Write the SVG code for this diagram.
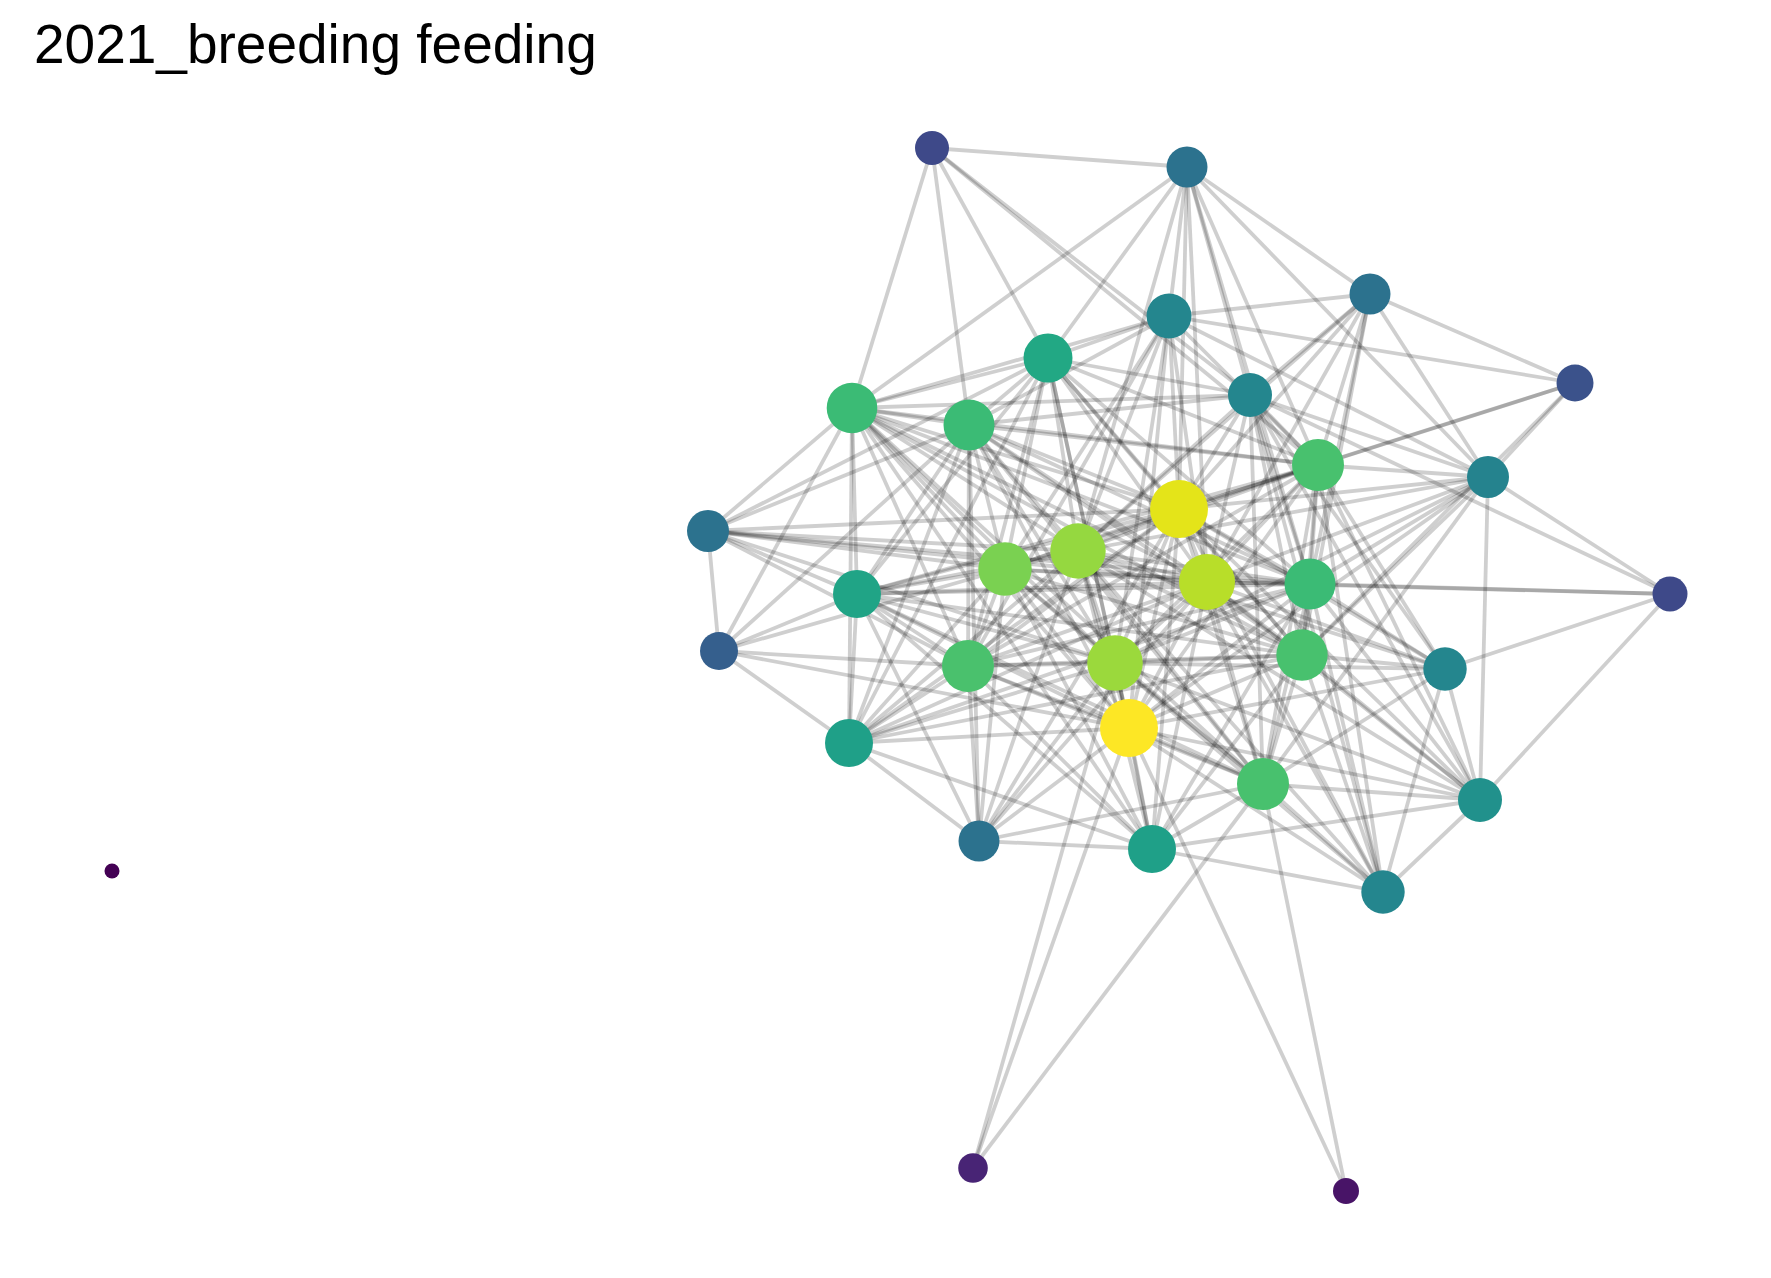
<svg xmlns="http://www.w3.org/2000/svg" width="1771" height="1278" viewBox="0 0 1771 1278">
<style>
.e path{fill:none;stroke:#000;stroke-opacity:0.19;stroke-width:3.8}
.t{font-family:"Liberation Sans",Arial,sans-serif;font-size:55px;fill:#000}
</style>
<rect width="1771" height="1278" fill="#fff"/>
<text class="t" x="34" y="63">2021_breeding feeding</text>
<g id="edges" class="e">
<path d="M932 148L1187 167"/><path d="M932 148L1048 358"/><path d="M932 148L1250 395"/><path d="M932 148L852 408"/><path d="M932 148L969 425"/><path d="M932 148L1318 465"/>
<path d="M1187 167L1370 294"/><path d="M1187 167L1169 316"/><path d="M1187 167L1048 358"/><path d="M1187 167L1250 395"/><path d="M1187 167L852 408"/><path d="M1187 167L1318 465"/><path d="M1187 167L1488 477"/><path d="M1187 167L1179 509"/><path d="M1187 167L1078 551"/><path d="M1187 167L1207 582"/><path d="M1187 167L1310 584"/>
<path d="M1370 294L1169 316"/><path d="M1370 294L1250 395"/><path d="M1370 294L1575 383"/><path d="M1370 294L1318 465"/><path d="M1370 294L1488 477"/><path d="M1370 294L1179 509"/><path d="M1370 294L1078 551"/><path d="M1370 294L1207 582"/><path d="M1370 294L1310 584"/><path d="M1370 294L1302 655"/>
<path d="M1169 316L1048 358"/><path d="M1169 316L1575 383"/><path d="M1169 316L852 408"/><path d="M1169 316L969 425"/><path d="M1169 316L1318 465"/><path d="M1169 316L1488 477"/><path d="M1169 316L1179 509"/><path d="M1169 316L1078 551"/><path d="M1169 316L1005 569"/><path d="M1169 316L1207 582"/><path d="M1169 316L968 666"/><path d="M1169 316L1115 663"/><path d="M1169 316L1129 728"/>
<path d="M1048 358L1250 395"/><path d="M1048 358L852 408"/><path d="M1048 358L969 425"/><path d="M1048 358L1318 465"/><path d="M1048 358L1179 509"/><path d="M1048 358L708 531"/><path d="M1048 358L1078 551"/><path d="M1048 358L1005 569"/><path d="M1048 358L1207 582"/><path d="M1048 358L1310 584"/><path d="M1048 358L857 594"/><path d="M1048 358L968 666"/><path d="M1048 358L1115 663"/><path d="M1048 358L1302 655"/><path d="M1048 358L1129 728"/><path d="M1048 358L849 743"/>
<path d="M1250 395L852 408"/><path d="M1250 395L969 425"/><path d="M1250 395L1318 465"/><path d="M1250 395L1488 477"/><path d="M1250 395L1179 509"/><path d="M1250 395L1078 551"/><path d="M1250 395L1207 582"/><path d="M1250 395L1310 584"/><path d="M1250 395L1670 594"/><path d="M1250 395L1302 655"/><path d="M1250 395L1445 669"/><path d="M1250 395L1263 784"/><path d="M1250 395L1480 800"/><path d="M1250 395L1383 892"/>
<path d="M1575 383L1318 465"/><path d="M1575 383L1488 477"/><path d="M1575 383L1179 509"/><path d="M1575 383L1302 655"/>
<path d="M852 408L969 425"/><path d="M852 408L1318 465"/><path d="M852 408L1179 509"/><path d="M852 408L708 531"/><path d="M852 408L1078 551"/><path d="M852 408L1005 569"/><path d="M852 408L1207 582"/><path d="M852 408L1310 584"/><path d="M852 408L857 594"/><path d="M852 408L719 651"/><path d="M852 408L968 666"/><path d="M852 408L1115 663"/><path d="M852 408L1302 655"/><path d="M852 408L1129 728"/><path d="M852 408L849 743"/><path d="M852 408L1263 784"/><path d="M852 408L1152 849"/>
<path d="M969 425L1318 465"/><path d="M969 425L1179 509"/><path d="M969 425L708 531"/><path d="M969 425L1078 551"/><path d="M969 425L1005 569"/><path d="M969 425L1207 582"/><path d="M969 425L1310 584"/><path d="M969 425L857 594"/><path d="M969 425L719 651"/><path d="M969 425L968 666"/><path d="M969 425L1115 663"/><path d="M969 425L1302 655"/><path d="M969 425L1129 728"/><path d="M969 425L849 743"/><path d="M969 425L1263 784"/><path d="M969 425L979 841"/>
<path d="M1318 465L1488 477"/><path d="M1318 465L1179 509"/><path d="M1318 465L1078 551"/><path d="M1318 465L1005 569"/><path d="M1318 465L1207 582"/><path d="M1318 465L1310 584"/><path d="M1318 465L857 594"/><path d="M1318 465L968 666"/><path d="M1318 465L1115 663"/><path d="M1318 465L1302 655"/><path d="M1318 465L1445 669"/><path d="M1318 465L1129 728"/><path d="M1318 465L1263 784"/><path d="M1318 465L1480 800"/><path d="M1318 465L1383 892"/>
<path d="M1488 477L1179 509"/><path d="M1488 477L1078 551"/><path d="M1488 477L1207 582"/><path d="M1488 477L1310 584"/><path d="M1488 477L1670 594"/><path d="M1488 477L1115 663"/><path d="M1488 477L1302 655"/><path d="M1488 477L1129 728"/><path d="M1488 477L1263 784"/><path d="M1488 477L1480 800"/>
<path d="M1179 509L708 531"/><path d="M1179 509L1078 551"/><path d="M1179 509L1005 569"/><path d="M1179 509L1207 582"/><path d="M1179 509L1310 584"/><path d="M1179 509L857 594"/><path d="M1179 509L968 666"/><path d="M1179 509L1115 663"/><path d="M1179 509L1302 655"/><path d="M1179 509L1445 669"/><path d="M1179 509L1129 728"/><path d="M1179 509L849 743"/><path d="M1179 509L1263 784"/><path d="M1179 509L1480 800"/><path d="M1179 509L979 841"/><path d="M1179 509L1152 849"/><path d="M1179 509L1383 892"/>
<path d="M708 531L1078 551"/><path d="M708 531L1005 569"/><path d="M708 531L1207 582"/><path d="M708 531L1310 584"/><path d="M708 531L857 594"/><path d="M708 531L719 651"/><path d="M708 531L968 666"/><path d="M708 531L1115 663"/>
<path d="M1078 551L1005 569"/><path d="M1078 551L1207 582"/><path d="M1078 551L1310 584"/><path d="M1078 551L857 594"/><path d="M1078 551L968 666"/><path d="M1078 551L1115 663"/><path d="M1078 551L1302 655"/><path d="M1078 551L1445 669"/><path d="M1078 551L1129 728"/><path d="M1078 551L849 743"/><path d="M1078 551L1263 784"/><path d="M1078 551L1480 800"/><path d="M1078 551L979 841"/><path d="M1078 551L1152 849"/><path d="M1078 551L1383 892"/>
<path d="M1005 569L1207 582"/><path d="M1005 569L1310 584"/><path d="M1005 569L857 594"/><path d="M1005 569L719 651"/><path d="M1005 569L968 666"/><path d="M1005 569L1115 663"/><path d="M1005 569L1302 655"/><path d="M1005 569L1129 728"/><path d="M1005 569L849 743"/><path d="M1005 569L1263 784"/><path d="M1005 569L979 841"/><path d="M1005 569L1152 849"/>
<path d="M1207 582L1310 584"/><path d="M1207 582L1670 594"/><path d="M1207 582L857 594"/><path d="M1207 582L968 666"/><path d="M1207 582L1115 663"/><path d="M1207 582L1302 655"/><path d="M1207 582L1445 669"/><path d="M1207 582L1129 728"/><path d="M1207 582L849 743"/><path d="M1207 582L1263 784"/><path d="M1207 582L1480 800"/><path d="M1207 582L979 841"/><path d="M1207 582L1152 849"/><path d="M1207 582L1383 892"/>
<path d="M1310 584L1670 594"/><path d="M1310 584L857 594"/><path d="M1310 584L968 666"/><path d="M1310 584L1115 663"/><path d="M1310 584L1302 655"/><path d="M1310 584L1445 669"/><path d="M1310 584L1129 728"/><path d="M1310 584L849 743"/><path d="M1310 584L1263 784"/><path d="M1310 584L1480 800"/><path d="M1310 584L1152 849"/><path d="M1310 584L1383 892"/>
<path d="M1670 594L1445 669"/><path d="M1670 594L1480 800"/>
<path d="M857 594L719 651"/><path d="M857 594L968 666"/><path d="M857 594L1115 663"/><path d="M857 594L1302 655"/><path d="M857 594L1129 728"/><path d="M857 594L849 743"/><path d="M857 594L1263 784"/><path d="M857 594L979 841"/><path d="M857 594L1152 849"/>
<path d="M719 651L968 666"/><path d="M719 651L1129 728"/><path d="M719 651L849 743"/>
<path d="M968 666L1115 663"/><path d="M968 666L1302 655"/><path d="M968 666L1129 728"/><path d="M968 666L849 743"/><path d="M968 666L1263 784"/><path d="M968 666L979 841"/><path d="M968 666L1152 849"/>
<path d="M1115 663L1302 655"/><path d="M1115 663L1445 669"/><path d="M1115 663L1129 728"/><path d="M1115 663L849 743"/><path d="M1115 663L1263 784"/><path d="M1115 663L1480 800"/><path d="M1115 663L979 841"/><path d="M1115 663L1152 849"/><path d="M1115 663L1383 892"/><path d="M1115 663L973 1168"/>
<path d="M1302 655L1445 669"/><path d="M1302 655L1129 728"/><path d="M1302 655L849 743"/><path d="M1302 655L1263 784"/><path d="M1302 655L1480 800"/><path d="M1302 655L1152 849"/><path d="M1302 655L1383 892"/>
<path d="M1445 669L1129 728"/><path d="M1445 669L1263 784"/><path d="M1445 669L1480 800"/><path d="M1445 669L1383 892"/>
<path d="M1129 728L849 743"/><path d="M1129 728L1263 784"/><path d="M1129 728L1480 800"/><path d="M1129 728L979 841"/><path d="M1129 728L1152 849"/><path d="M1129 728L1383 892"/><path d="M1129 728L973 1168"/><path d="M1129 728L1346 1191"/>
<path d="M849 743L979 841"/><path d="M849 743L1152 849"/>
<path d="M1263 784L1480 800"/><path d="M1263 784L979 841"/><path d="M1263 784L1152 849"/><path d="M1263 784L1383 892"/><path d="M1263 784L973 1168"/><path d="M1263 784L1346 1191"/>
<path d="M1480 800L1152 849"/><path d="M1480 800L1383 892"/><path d="M979 841L1152 849"/><path d="M1152 849L1383 892"/>
</g>
<g id="nA"><circle cx="932" cy="148" r="17" fill="#3e4989"/></g>
<g id="nB"><circle cx="1187" cy="167" r="20.5" fill="#2c728e"/></g>
<g id="nC"><circle cx="1370" cy="294" r="20.5" fill="#2c728e"/></g>
<g id="nD"><circle cx="1169" cy="316" r="22.5" fill="#24868e"/></g>
<g id="nE"><circle cx="1048" cy="358" r="24.5" fill="#22a884"/></g>
<g id="nF"><circle cx="1250" cy="395" r="22" fill="#24868e"/></g>
<g id="nG"><circle cx="1575" cy="383" r="18.5" fill="#3b528b"/></g>
<g id="nH"><circle cx="852" cy="408" r="25.3" fill="#3bbb75"/></g>
<g id="nI"><circle cx="969" cy="425" r="25.5" fill="#3bbb75"/></g>
<g id="nJ"><circle cx="1318" cy="465" r="26" fill="#48c16e"/></g>
<g id="nK"><circle cx="1488" cy="477" r="21" fill="#25838e"/></g>
<g id="nL"><circle cx="1179" cy="509" r="29" fill="#e4e419"/></g>
<g id="nM"><circle cx="708" cy="531" r="21" fill="#2c728e"/></g>
<g id="nN"><circle cx="1078" cy="551" r="27.7" fill="#95d840"/></g>
<g id="nO"><circle cx="1005" cy="569" r="26.7" fill="#7ad151"/></g>
<g id="nP"><circle cx="1207" cy="582" r="28" fill="#b8de29"/></g>
<g id="nQ"><circle cx="1310" cy="584" r="25.5" fill="#3bbb75"/></g>
<g id="nR"><circle cx="1670" cy="594" r="17.5" fill="#3e4989"/></g>
<g id="nS"><circle cx="857" cy="594" r="24" fill="#20a486"/></g>
<g id="nT"><circle cx="719" cy="651" r="19" fill="#355f8d"/></g>
<g id="nU"><circle cx="968" cy="666" r="26" fill="#4ac16d"/></g>
<g id="nV"><circle cx="1115" cy="663" r="27.8" fill="#9bd93c"/></g>
<g id="nW"><circle cx="1302" cy="655" r="25.7" fill="#48c16e"/></g>
<g id="nX"><circle cx="1445" cy="669" r="21.7" fill="#24868e"/></g>
<g id="nY"><circle cx="1129" cy="728" r="29" fill="#fde725"/></g>
<g id="nZ"><circle cx="849" cy="743" r="24" fill="#1fa088"/></g>
<g id="nAA"><circle cx="1263" cy="784" r="26" fill="#48c16e"/></g>
<g id="nAB"><circle cx="1480" cy="800" r="22" fill="#21918c"/></g>
<g id="nAC"><circle cx="979" cy="841" r="20.5" fill="#2c728e"/></g>
<g id="nAD"><circle cx="1152" cy="849" r="24" fill="#1fa088"/></g>
<g id="nAE"><circle cx="1383" cy="892" r="21.7" fill="#24868e"/></g>
<g id="nAF"><circle cx="112" cy="871" r="7.5" fill="#440154"/></g>
<g id="nAG"><circle cx="973" cy="1168" r="14.8" fill="#482475"/></g>
<g id="nAH"><circle cx="1346" cy="1191" r="13" fill="#481467"/></g>
</svg>
